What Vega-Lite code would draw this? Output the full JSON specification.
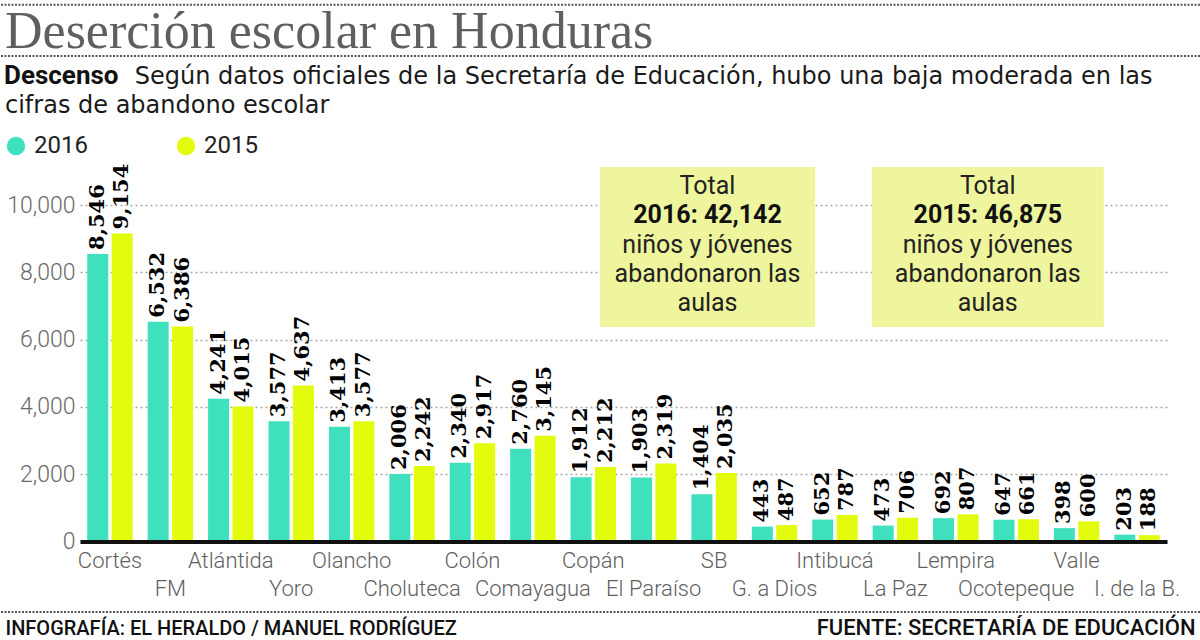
{
  "$schema": "https://vega.github.io/schema/vega-lite/v6.json",
  "width": 1200,
  "height": 336.5,
  "autosize": "none",
  "padding": {"left": 0, "top": 205, "right": 0, "bottom": 98.5},
  "background": "white",
  "config": {"view": {"stroke": null}},
  "title": {
    "text": "Deserción escolar en Honduras",
    "subtitle": ["\u200b\u00a0\u00a0\u00a0\u00a0\u00a0\u00a0\u00a0\u00a0\u00a0\u00a0\u00a0\u00a0\u00a0\u00a0\u00a0\u00a0\u00a0Según datos oficiales de la Secretaría de Educación, hubo una baja moderada en las", "cifras de abandono escolar"],
    "anchor": "start",
    "frame": "group",
    "orient": "top",
    "dx": 5,
    "offset": -115,
    "font": "Liberation Serif",
    "fontSize": 52,
    "fontWeight": "normal",
    "color": "#5f5f5f",
    "subtitleFont": "DejaVu Sans",
    "subtitleFontSize": 24,
    "subtitleColor": "#1a1a1a",
    "subtitleLineHeight": 29,
    "subtitlePadding": 6
  },
  "datasets": {
    "deps": [
      {"dept": "Cortés", "year": "2016", "value": 8546}, {"dept": "Cortés", "year": "2015", "value": 9154},
      {"dept": "FM", "year": "2016", "value": 6532}, {"dept": "FM", "year": "2015", "value": 6386},
      {"dept": "Atlántida", "year": "2016", "value": 4241}, {"dept": "Atlántida", "year": "2015", "value": 4015},
      {"dept": "Yoro", "year": "2016", "value": 3577}, {"dept": "Yoro", "year": "2015", "value": 4637},
      {"dept": "Olancho", "year": "2016", "value": 3413}, {"dept": "Olancho", "year": "2015", "value": 3577},
      {"dept": "Choluteca", "year": "2016", "value": 2006}, {"dept": "Choluteca", "year": "2015", "value": 2242},
      {"dept": "Colón", "year": "2016", "value": 2340}, {"dept": "Colón", "year": "2015", "value": 2917},
      {"dept": "Comayagua", "year": "2016", "value": 2760}, {"dept": "Comayagua", "year": "2015", "value": 3145},
      {"dept": "Copán", "year": "2016", "value": 1912}, {"dept": "Copán", "year": "2015", "value": 2212},
      {"dept": "El Paraíso", "year": "2016", "value": 1903}, {"dept": "El Paraíso", "year": "2015", "value": 2319},
      {"dept": "SB", "year": "2016", "value": 1404}, {"dept": "SB", "year": "2015", "value": 2035},
      {"dept": "G. a Dios", "year": "2016", "value": 443}, {"dept": "G. a Dios", "year": "2015", "value": 487},
      {"dept": "Intibucá", "year": "2016", "value": 652}, {"dept": "Intibucá", "year": "2015", "value": 787},
      {"dept": "La Paz", "year": "2016", "value": 473}, {"dept": "La Paz", "year": "2015", "value": 706},
      {"dept": "Lempira", "year": "2016", "value": 692}, {"dept": "Lempira", "year": "2015", "value": 807},
      {"dept": "Ocotepeque", "year": "2016", "value": 647}, {"dept": "Ocotepeque", "year": "2015", "value": 661},
      {"dept": "Valle", "year": "2016", "value": 398}, {"dept": "Valle", "year": "2015", "value": 600},
      {"dept": "I. de la B.", "year": "2016", "value": 203}, {"dept": "I. de la B.", "year": "2015", "value": 188}
    ],
    "one": [{}]
  },
  "layer": [
    {
      "data": {"name": "deps"},
      "mark": {"type": "bar"},
      "encoding": {
        "x": {
          "field": "dept", "type": "nominal", "sort": null,
          "scale": {"domain": ["Cortés", "FM", "Atlántida", "Yoro", "Olancho", "Choluteca", "Colón", "Comayagua", "Copán", "El Paraíso", "SB", "G. a Dios", "Intibucá", "La Paz", "Lempira", "Ocotepeque", "Valle", "I. de la B."], "range": [80, 1167], "paddingInner": 0.248, "paddingOuter": 0.12},
          "axis": {
            "orient": "bottom", "zindex": 1,
            "title": "INFOGRAFÍA: EL HERALDO / MANUEL RODRÍGUEZ",
            "titleX": 5, "titleY": 92.5, "titleAlign": "left", "titleAnchor": "start", "titleBaseline": "alphabetic", "titleAngle": 0,
            "titleFont": "Roboto", "titleFontSize": 20, "titleFontWeight": 500, "titleColor": "#111111",
            "domain": true, "domainColor": "#111111", "domainWidth": 4,
            "ticks": false, "grid": false, "labelAngle": 0,
            "labelFont": "Roboto", "labelFontWeight": 300, "labelFontSize": 22, "labelColor": "#5f5f5f",
            "labelPadding": 9, "labelBaseline": "top", "labelLineHeight": 28, "labelOverlap": false, "labelBound": false, "labelLimit": 0,
            "labelExpr": "indexof(['FM','Yoro','Choluteca','Comayagua','El Paraíso','G. a Dios','La Paz','Ocotepeque','I. de la B.'], datum.value) >= 0 ? ['', datum.label] : datum.label"
          }
        },
        "xOffset": {"field": "year", "type": "nominal", "sort": ["2016", "2015"], "scale": {"domain": ["2016", "2015"], "paddingInner": 0.14, "paddingOuter": 0}},
        "y": {
          "field": "value", "type": "quantitative",
          "scale": {"domain": [0, 10000], "nice": false},
          "axis": {
            "orient": "left", "zindex": 0, "offset": -80,
            "title": "FUENTE: SECRETARÍA DE EDUCACIÓN",
            "titleX": 1115, "titleY": 429, "titleAlign": "right", "titleAnchor": "start", "titleBaseline": "alphabetic", "titleAngle": 0,
            "titleFont": "Roboto", "titleFontSize": 22, "titleFontWeight": 500, "titleColor": "#111111",
            "values": [0, 2000, 4000, 6000, 8000, 10000], "format": ",d",
            "domain": false, "ticks": false,
            "grid": true, "gridColor": "#a8a8a8", "gridDash": [2, 3], "gridWidth": 1.5,
            "labelFont": "Roboto", "labelFontWeight": 300, "labelFontSize": 23, "labelColor": "#6a6a6a", "labelPadding": 5
          }
        },
        "color": {
          "field": "year", "type": "nominal",
          "scale": {"domain": ["2016", "2015"], "range": ["#3ee0bd", "#e3fb0c"]},
          "legend": {
            "orient": "none", "legendX": 4, "legendY": -142, "direction": "horizontal",
            "title": "Descenso", "titleFont": "Roboto", "titleFontSize": 26, "titleFontWeight": "bold", "titleColor": "#111111", "titlePadding": 45,
            "symbolType": "circle", "symbolSize": 340, "symbolStrokeWidth": 0, "symbolOpacity": 1,
            "labelFont": "Roboto", "labelFontSize": 24, "labelColor": "#222222", "labelOffset": 6, "columnPadding": 86
          }
        }
      }
    },
    {
      "data": {"name": "deps"},
      "mark": {"type": "text", "angle": 270, "align": "left", "baseline": "middle", "dx": 4, "font": "DejaVu Serif", "fontWeight": "bold", "fontSize": 21, "fill": "#000000"},
      "encoding": {
        "x": {"field": "dept", "type": "nominal", "sort": null},
        "xOffset": {"field": "year", "type": "nominal", "sort": ["2016", "2015"]},
        "y": {"field": "value", "type": "quantitative"},
        "text": {"field": "value", "type": "quantitative", "format": ",d"}
      }
    },
    {
      "data": {"name": "one"},
      "mark": {"type": "bar", "width": 215, "xOffset": -6.6, "fill": "#eef59c"},
      "encoding": {
        "x": {"datum": "SB", "type": "nominal"},
        "y": {"datum": 11129, "type": "quantitative"},
        "y2": {"datum": 6374}
      }
    },
    {
      "data": {"name": "one"},
      "mark": {"type": "text", "xOffset": -6.6, "font": "Roboto", "fontSize": 25, "fill": "#222222", "align": "center", "baseline": "middle", "text": "Total"},
      "encoding": {"x": {"datum": "SB", "type": "nominal"}, "y": {"datum": 10565, "type": "quantitative"}}
    },
    {
      "data": {"name": "one"},
      "mark": {"type": "text", "xOffset": -6.6, "font": "Roboto", "fontSize": 25, "fontWeight": "bold", "fill": "#111111", "align": "center", "baseline": "middle", "text": "2016: 42,142"},
      "encoding": {"x": {"datum": "SB", "type": "nominal"}, "y": {"datum": 9703, "type": "quantitative"}}
    },
    {
      "data": {"name": "one"},
      "mark": {"type": "text", "xOffset": -6.6, "font": "Roboto", "fontSize": 25, "fill": "#222222", "align": "center", "baseline": "middle", "lineHeight": 29, "text": ["niños y jóvenes", "abandonaron las", "aulas"]},
      "encoding": {"x": {"datum": "SB", "type": "nominal"}, "y": {"datum": 8811, "type": "quantitative"}}
    },
    {
      "data": {"name": "one"},
      "mark": {"type": "bar", "width": 232, "xOffset": 32, "fill": "#eef59c"},
      "encoding": {
        "x": {"datum": "Lempira", "type": "nominal"},
        "y": {"datum": 11129, "type": "quantitative"},
        "y2": {"datum": 6374}
      }
    },
    {
      "data": {"name": "one"},
      "mark": {"type": "text", "xOffset": 32, "font": "Roboto", "fontSize": 25, "fill": "#222222", "align": "center", "baseline": "middle", "text": "Total"},
      "encoding": {"x": {"datum": "Lempira", "type": "nominal"}, "y": {"datum": 10565, "type": "quantitative"}}
    },
    {
      "data": {"name": "one"},
      "mark": {"type": "text", "xOffset": 32, "font": "Roboto", "fontSize": 25, "fontWeight": "bold", "fill": "#111111", "align": "center", "baseline": "middle", "text": "2015: 46,875"},
      "encoding": {"x": {"datum": "Lempira", "type": "nominal"}, "y": {"datum": 9703, "type": "quantitative"}}
    },
    {
      "data": {"name": "one"},
      "mark": {"type": "text", "xOffset": 32, "font": "Roboto", "fontSize": 25, "fill": "#222222", "align": "center", "baseline": "middle", "lineHeight": 29, "text": ["niños y jóvenes", "abandonaron las", "aulas"]},
      "encoding": {"x": {"datum": "Lempira", "type": "nominal"}, "y": {"datum": 8811, "type": "quantitative"}}
    },
    {
      "data": {"name": "one"},
      "mark": {"type": "rule", "stroke": "#555555", "strokeDash": [2, 1.5], "strokeWidth": 2},
      "encoding": {"y": {"datum": 15950, "type": "quantitative"}}
    },
    {
      "data": {"name": "one"},
      "mark": {"type": "rule", "stroke": "#555555", "strokeDash": [2, 1.5], "strokeWidth": 2},
      "encoding": {"y": {"datum": 14428, "type": "quantitative"}}
    },
    {
      "data": {"name": "one"},
      "mark": {"type": "rule", "stroke": "#555555", "strokeDash": [2, 1.5], "strokeWidth": 2},
      "encoding": {"y": {"datum": -2095, "type": "quantitative"}}
    }
  ]
}
